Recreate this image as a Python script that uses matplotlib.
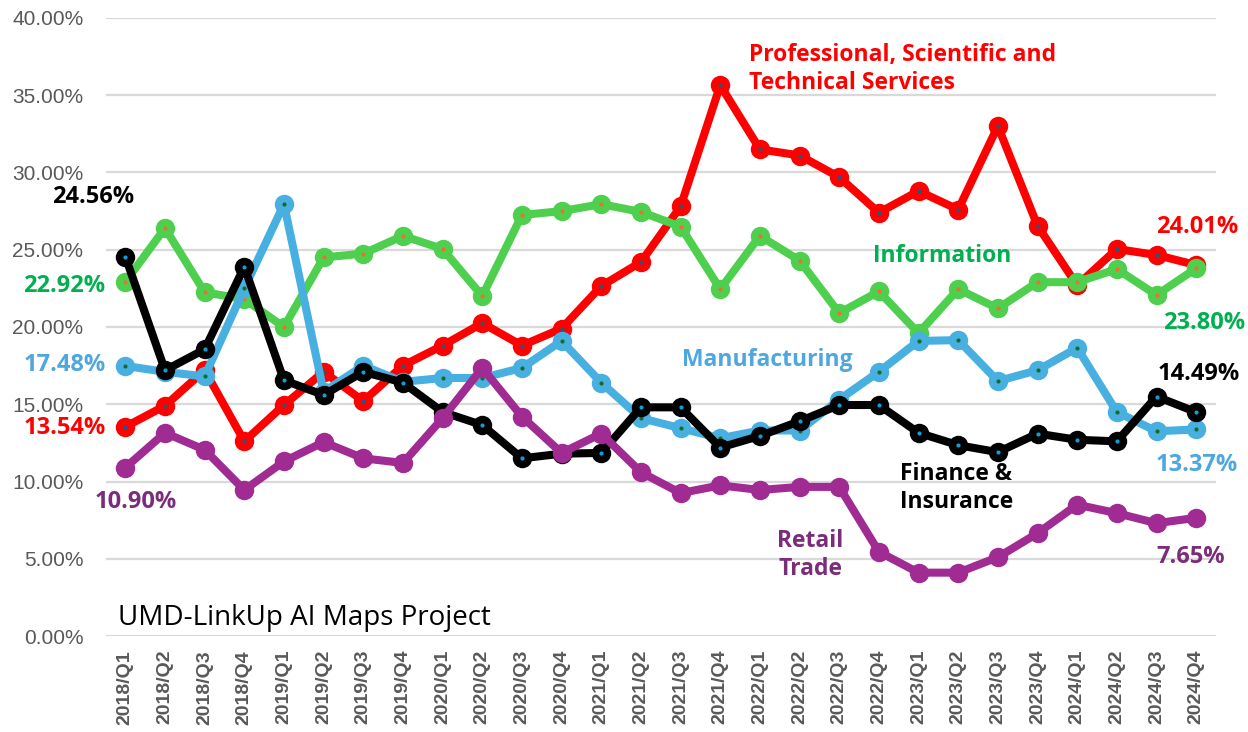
import numpy as np
import matplotlib.pyplot as plt

quarters = [f"{y}/Q{q}" for y in range(2018, 2025) for q in range(1, 5)]

professional = [13.54, 14.9, 17.2, 12.6, 14.95, 17.1, 15.2, 17.5, 18.8, 20.25, 18.8, 19.9, 22.65, 24.2,
                27.8, 35.65, 31.5, 31.1, 29.7, 27.4, 28.8, 27.6, 33.0, 26.55, 22.7, 25.05, 24.66, 24.01]
information = [22.92, 26.4, 22.25, 21.8, 20.0, 24.5, 24.75, 25.9, 25.05, 22.0, 27.25, 27.5, 27.95, 27.45,
               26.5, 22.45, 25.9, 24.3, 20.9, 22.3, 19.6, 22.45, 21.2, 22.9, 22.9, 23.75, 22.07, 23.80]
manufacturing = [17.48, 17.1, 16.8, 22.5, 27.95, 15.8, 17.5, 16.45, 16.7, 16.7, 17.35, 19.1, 16.4, 14.1,
                 13.45, 12.8, 13.3, 13.3, 15.3, 17.1, 19.1, 19.15, 16.5, 17.2, 18.65, 14.5, 13.25, 13.37]
finance = [24.56, 17.2, 18.55, 23.9, 16.55, 15.6, 17.1, 16.4, 14.5, 13.65, 11.5, 11.8, 11.85, 14.8,
           14.8, 12.2, 12.95, 13.9, 14.95, 14.95, 13.15, 12.35, 11.9, 13.1, 12.7, 12.6, 15.5, 14.49]
retail = [10.90, 13.15, 12.05, 9.45, 11.3, 12.55, 11.5, 11.2, 14.1, 17.35, 14.2, 11.85, 13.1, 10.6,
          9.25, 9.75, 9.45, 9.65, 9.65, 5.45, 4.1, 4.1, 5.1, 6.65, 8.5, 7.95, 7.3, 7.65]

series = [
    (professional, "#FF0000", "#1F5A7A"),
    (information, "#4ED04E", "#E97132"),
    (manufacturing, "#47B0E0", "#196B24"),
    (finance, "#000000", "#0F9ED5"),
    (retail, "#A02B93", "#A02B93"),
]

fig = plt.figure(figsize=(12.48, 7.32), dpi=100)
ax = fig.add_axes([105.5 / 1248, 96 / 732, (1216 - 105.5) / 1248, (636 - 18) / 732])

x = np.arange(len(quarters))
for vals, col, dot in series:
    ax.plot(x, vals, "-o", color=col, lw=5.8, ms=14, markeredgewidth=0, zorder=3)
    ax.plot(x, vals, "o", color=dot, ms=3, markeredgewidth=0, zorder=3)

ax.set_xlim(-0.5, len(quarters) - 0.5)
ax.set_ylim(0, 40)
ax.set_yticks(np.arange(0, 41, 5))
ax.set_yticklabels([f"{v:.2f}%" for v in np.arange(0, 41, 5)], fontsize=15,
                   color="#595959", family="Liberation Sans")
ax.set_xticks(x)
ax.set_xticklabels(quarters, rotation=90, fontsize=14, fontweight="bold",
                   color="#595959", family="Liberation Sans")
ax.tick_params(axis="y", length=0, pad=16)
ax.tick_params(axis="x", length=0, pad=10)
ax.grid(axis="y", color="#D9D9D9", lw=1.6, zorder=0)
for s in ax.spines.values():
    s.set_visible(False)

lab = dict(family="Open Sans", fontweight="bold", fontsize=17, ha="center", va="center")
ax.text(-0.8, 28.4, "24.56%", color="#000000", **lab)
ax.text(-1.54, 22.65, "22.92%", color="#00B050", **lab)
ax.text(-1.54, 17.55, "17.48%", color="#4EA7DE", **lab)
ax.text(-1.54, 13.45, "13.54%", color="#FF0000", **lab)
ax.text(0.25, 8.67, "10.90%", color="#7B2C7A", **lab)
ax.text(27.02, 26.5, "24.01%", color="#FF0000", **lab)
ax.text(27.2, 20.25, "23.80%", color="#00B050", **lab)
ax.text(27.07, 16.96, "14.49%", color="#000000", **lab)
ax.text(27.02, 11.07, "13.37%", color="#4EA7DE", **lab)
ax.text(26.87, 5.11, "7.65%", color="#7B2C7A", **lab)

nm = dict(family="Open Sans", fontweight="bold", fontsize=16.5, va="center", linespacing=1.2)
ax.text(15.73, 36.7, "Professional, Scientific and\nTechnical Services", color="#FF0000", ha="left", **nm)
ax.text(20.6, 24.6, "Information", color="#00B050", ha="center", **nm)
ax.text(16.18, 17.86, "Manufacturing", color="#4EA7DE", ha="center", **nm)
ax.text(19.54, 9.58, "Finance &\nInsurance", color="#000000", ha="left", **nm)
ax.text(17.27, 5.24, "Retail\nTrade", color="#7B2C7A", ha="center", **nm)

ax.text(-0.18, 1.17, "UMD-LinkUp AI Maps Project", family="Open Sans", fontsize=20,
        color="#000000", ha="left", va="center")

fig.savefig("out.png", dpi=100)
